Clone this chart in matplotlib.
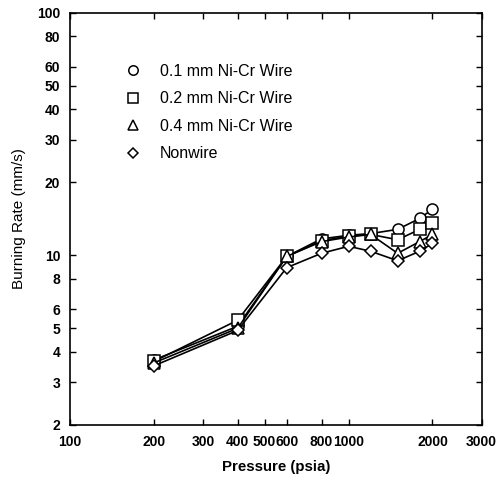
import matplotlib
matplotlib.use("Agg")
import matplotlib.pyplot as plt
from matplotlib.ticker import FixedLocator, FixedFormatter, NullLocator

plt.rcParams['font.family'] = ['Liberation Sans', 'DejaVu Sans']

# Pressure (psia) and burning rate (mm/s)
pressure = [200, 400, 600, 800, 1000, 1200, 1500, 1800, 2000]
wire_01 = [3.7, 5.1, 9.9, 11.7, 12.1, 12.3, 12.8, 14.2, 15.5]
wire_02 = [3.65, 5.4, 9.9, 11.5, 12.0, 12.2, 11.6, 12.8, 13.6]
wire_04 = [3.6, 5.0, 9.9, 11.4, 11.9, 12.2, 10.2, 11.4, 12.2]
nonwire = [3.5, 4.9, 8.9, 10.2, 10.9, 10.4, 9.5, 10.4, 11.2]

series_labels = ['0.1 mm Ni-Cr Wire', '0.2 mm Ni-Cr Wire',
                 '0.4 mm Ni-Cr Wire', 'Nonwire']
markers = ['o', 's', '^', 'D']

x_ticks = [100, 200, 300, 400, 500, 600, 800, 1000, 2000, 3000]
y_ticks = [2, 3, 4, 5, 6, 8, 10, 20, 30, 40, 50, 60, 80, 100]

fig = plt.figure(figsize=(4.99, 4.8), dpi=100)
ax = fig.add_axes([0.140, 0.115, 0.825, 0.858])

for ys, lab, m in zip([wire_01, wire_02, wire_04, nonwire], series_labels, markers):
    ms = 6.5 if m == 'D' else 8
    ax.plot(pressure, ys, color='black', lw=1.2, marker=m, ms=ms,
            mfc='white', mec='black', mew=1.1, label=lab)

ax.set_xscale('log')
ax.set_yscale('log')
ax.set_xlim(100, 3000)
ax.set_ylim(2, 100)

ax.xaxis.set_major_locator(FixedLocator(x_ticks))
ax.xaxis.set_major_formatter(FixedFormatter([str(t) for t in x_ticks]))
ax.xaxis.set_minor_locator(NullLocator())
ax.yaxis.set_major_locator(FixedLocator(y_ticks))
ax.yaxis.set_major_formatter(FixedFormatter([str(t) for t in y_ticks]))
ax.yaxis.set_minor_locator(NullLocator())

ax.tick_params(direction='in', length=4, width=1, top=True, right=True,
               labelsize=10, pad=7)
for lbl in ax.get_xticklabels() + ax.get_yticklabels():
    lbl.set_fontweight('bold')
for sp in ax.spines.values():
    sp.set_linewidth(1.2)

ax.set_xlabel('Pressure (psia)', fontsize=10.8, fontweight='bold', labelpad=8)
ax.set_ylabel('Burning Rate (mm/s)', fontsize=11, labelpad=8)

leg = ax.legend(loc='upper left', bbox_to_anchor=(0.134, 0.876), frameon=False,
                fontsize=11.5, handlelength=1.0, handletextpad=1.2,
                labelspacing=0.78, borderaxespad=0, borderpad=0,
                markerscale=0.85)
for h in leg.get_lines():
    h.set_linestyle('none')

fig.savefig('out.png', dpi=100)
